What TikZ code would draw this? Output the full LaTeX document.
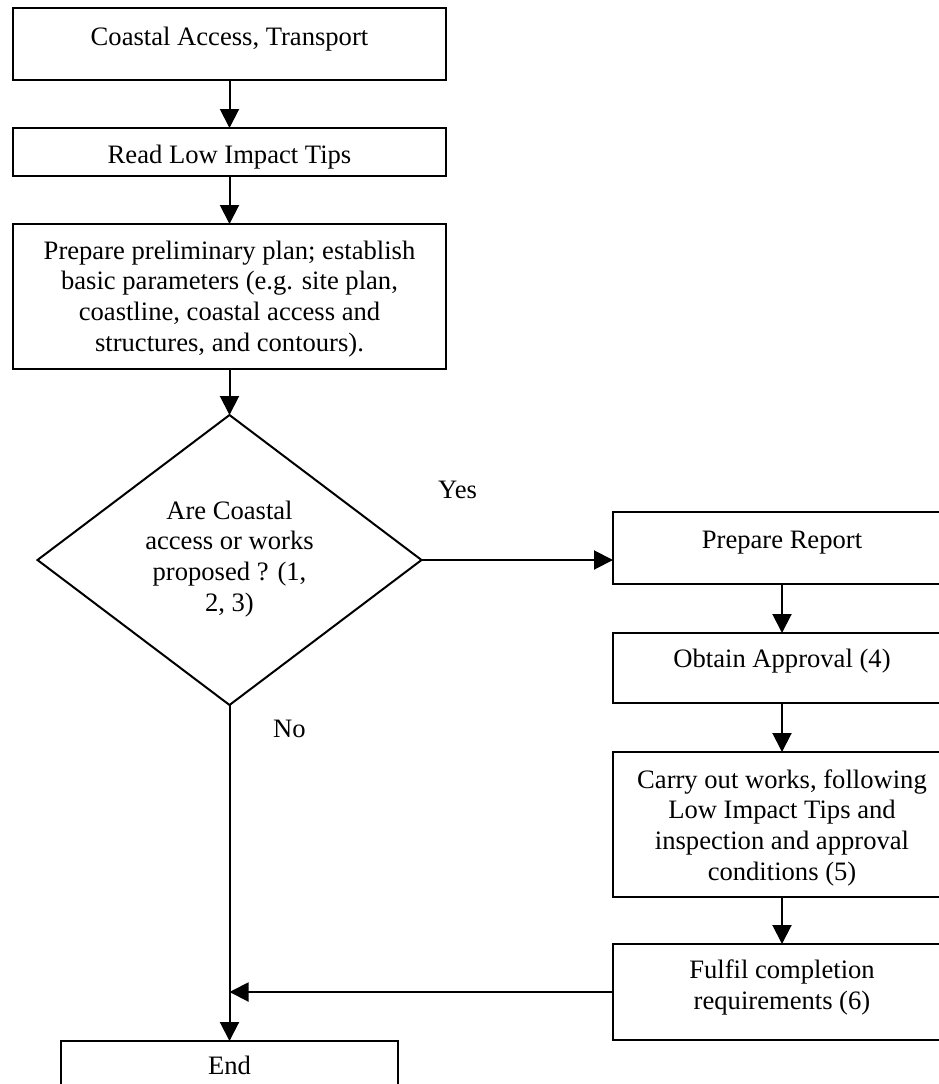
\documentclass[tikz,border=0pt]{standalone}
\usepackage{fontspec}
\setmainfont{Liberation Serif}
\usetikzlibrary{arrows.meta,shapes.geometric}
\begin{document}
\begin{tikzpicture}[x=1pt,y=-1pt,
  box/.style={draw, line width=2pt, rectangle, inner sep=0pt, outer sep=0pt},
  decision/.style={draw, line width=2pt, diamond, inner sep=0pt, outer sep=0pt,
                   minimum width=384pt, minimum height=290pt},
  txt/.style={font=\fontsize{26.6}{30.6}\selectfont, align=center, anchor=base, inner sep=0pt},
  lbl/.style={font=\fontsize{26.6}{30.6}\selectfont, anchor=base west, inner sep=0pt},
  flow/.style={line width=2pt, -{Triangle[length=19pt,width=19pt]}}
]
\useasboundingbox (0,0) rectangle (939,1084);
\clip (0,0) rectangle (939,1084);

% left column
\node[box, minimum width=433pt, minimum height=72pt]  (access)   at (229.5,44)    {};
\node[box, minimum width=433pt, minimum height=48pt]  (tips)     at (229.5,152)   {};
\node[box, minimum width=433pt, minimum height=145pt] (plan)     at (229.5,296.5) {};
\node[decision]                                        (question) at (229.5,560)   {};
\node[box, minimum width=337pt, minimum height=72pt]  (finish)   at (229.5,1077)  {};

% right column
\node[box, minimum width=338pt, minimum height=72pt]  (report)   at (782,548)     {};
\node[box, minimum width=338pt, minimum height=70pt]  (approval) at (782,668)     {};
\node[box, minimum width=338pt, minimum height=145pt] (works)    at (782,824.5)   {};
\node[box, minimum width=338pt, minimum height=96pt]  (fulfil)   at (782,992)     {};

% texts (multi-line blocks are placed by the baseline of their last line)
\node[txt] (t-access)   at (229.5,45)  {Coastal Access, Transport};
\node[txt] (t-tips)     at (229.5,163) {Read Low Impact Tips};
\node[txt] (t-plan)     at (229.5,351) {Prepare preliminary plan; establish\\basic parameters (e.g. site plan,\\coastline, coastal access and\\structures, and contours).};
\node[txt] (t-question) at (229.5,611) {Are Coastal\\access or works\\proposed ? (1,\\2, 3)};
\node[txt] (t-finish)   at (229.5,1074) {End};
\node[txt] (t-report)   at (782,548)   {Prepare Report};
\node[txt] (t-approval) at (782,667)   {Obtain Approval (4)};
\node[txt] (t-works)    at (782,880)   {Carry out works, following\\Low Impact Tips and\\inspection and approval\\conditions (5)};
\node[txt] (t-fulfil)   at (782,1009)  {Fulfil completion\\requirements (6)};
\node[lbl] (yes) at (438,498) {Yes};
\node[lbl] (no)  at (273,737) {No};

% connectors
\draw[flow] (access.south) -- (tips.north);
\draw[flow] (tips.south) -- (plan.north);
\draw[flow] (plan.south) -- (question.north);
\draw[flow] (question.east) -- (question.east -| report.west);
\draw[flow] (report.south) -- (approval.north);
\draw[flow] (approval.south) -- (works.north);
\draw[flow] (works.south) -- (fulfil.north);
\draw[flow] (question.south) -- (finish.north);
\draw[flow] (fulfil.west) -- (question.south |- fulfil.west);
\end{tikzpicture}
\end{document}
